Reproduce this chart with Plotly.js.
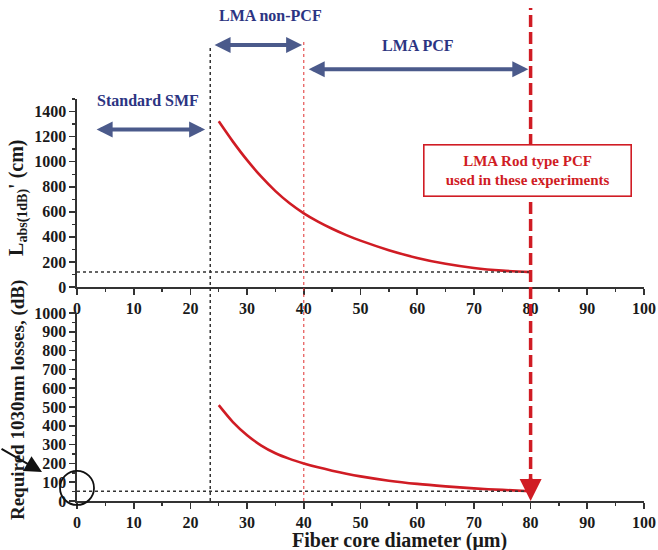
<!DOCTYPE html>
<html>
<head>
<meta charset="utf-8">
<script src="https://cdn.plot.ly/plotly-3.0.1.min.js"></script>
<style>html,body{margin:0;padding:0;background:#fff;}#chart{width:658px;height:550px;}</style>
</head>
<body>
<div id="chart"></div>
<script>
// ---- data ----
const diameter = [25, 27.5, 30, 32.5, 35, 37.5, 40, 42.5, 45, 47.5, 50, 55, 60, 65, 70, 75, 80];
const lengthCm = [1322, 1160, 1012, 880, 765, 668, 588, 522, 465, 414, 370, 294, 232, 185, 152, 131, 119];
const lossDb   = [510, 420, 350, 295, 254, 224, 200, 179, 161, 145, 131, 108, 91, 78, 67, 59, 52];
const xTicks = [0, 10, 20, 30, 40, 50, 60, 70, 80, 90, 100];
const regionLabels = ["Standard SMF", "LMA non-PCF", "LMA PCF"];
const regionStart = [3.2, 24.0, 40.6];
const regionEnd = [22.6, 39.7, 79.6];
const smfBoundary = 23.5;     // black dotted line
const nonPcfBoundary = 40;    // red dotted line
const rodDiameter = 80;       // red dashed arrow
const lengthLevel = 120;      // top dotted level
const lossLevel = 52;         // bottom dotted level
const boxText = "LMA Rod type PCF<br>used in these experiments";
const xTitle = "Fiber core diameter (μm)";
const yTitleTop = "L<sub>abs(1dB)</sub>' (cm)";
const yTitleBottom = "Required 1030nm losses, (dB)";

const RED = "#d01c24";
const NAVY = "#2c3482";
const ARROW = "#4b5a8b";
const AX = "#333333";
const FONT = "'Liberation Serif', 'Times New Roman', serif";

const tickfont = {family: FONT, size: 16, color: "#1a1a1a", weight: "bold"};

function xAxis(anchor) {
  return {
    anchor: anchor, range: [0, 100], tickvals: xTicks, ticktext: xTicks.map(String),
    showgrid: false, zeroline: false, showline: true, linecolor: AX, linewidth: 1.6,
    ticks: "outside", ticklen: 6, tickwidth: 1.6, tickcolor: AX,
    minor: {ticks: "outside", dtick: 5, tick0: 0, ticklen: 3, tickwidth: 1.4, tickcolor: AX},
    tickfont: tickfont, fixedrange: true
  };
}
function yAxis(anchor, domain, range, dtick, mdt) {
  return {
    anchor: anchor, domain: domain, range: range, dtick: dtick, tick0: 0,
    showgrid: false, zeroline: false, showline: true, linecolor: AX, linewidth: 1.6,
    ticks: "outside", ticklen: 6, tickwidth: 1.6, tickcolor: AX,
    minor: {ticks: "outside", dtick: mdt, tick0: 0, ticklen: 3, tickwidth: 1.4, tickcolor: AX},
    tickfont: tickfont, fixedrange: true
  };
}

const traces = [
  {x: diameter, y: lengthCm, xaxis: "x", yaxis: "y", mode: "lines",
   line: {color: RED, width: 2.6, shape: "spline", smoothing: 0.8}, hoverinfo: "skip"},
  {x: diameter, y: lossDb, xaxis: "x2", yaxis: "y2", mode: "lines",
   line: {color: RED, width: 2.6, shape: "spline", smoothing: 0.8}, hoverinfo: "skip"}
];

const shapes = [
  {type: "line", xref: "x", yref: "paper", x0: smfBoundary, x1: smfBoundary, y0: 0, y1: 0.910,
   line: {color: "#333", width: 1.5, dash: "dot"}},
  {type: "line", xref: "x", yref: "paper", x0: nonPcfBoundary, x1: nonPcfBoundary, y0: 0, y1: 0.918,
   line: {color: "#e03030", width: 1, dash: "dot"}},
  {type: "line", xref: "x", yref: "y", x0: 0, x1: rodDiameter, y0: lengthLevel, y1: lengthLevel,
   line: {color: "#333", width: 1.5, dash: "dot"}},
  {type: "line", xref: "x2", yref: "y2", x0: 0, x1: rodDiameter, y0: lossLevel, y1: lossLevel,
   line: {color: "#333", width: 1.5, dash: "dot"}},
  {type: "line", xref: "x", yref: "paper", x0: rodDiameter, x1: rodDiameter, y0: 0.03, y1: 0.984,
   line: {color: RED, width: 3.5, dash: "12px,5px"}},
  {type: "circle", xref: "paper", yref: "paper", xsizemode: "pixel", ysizemode: "pixel",
   xanchor: 0, yanchor: 0.026, x0: -17, x1: 17, y0: -17, y1: 17,
   line: {color: "#111", width: 1.8}}
];

const bold = (size, color) => ({family: FONT, size: size, color: color, weight: "bold"});
const C = {xanchor: "center", yanchor: "middle"};

const annotations = [
  // double arrows
  {xref: "x", yref: "y", x: regionEnd[0], y: 1256, axref: "x", ayref: "y", ax: regionStart[0], ay: 1256,
   text: "", showarrow: true, arrowside: "end+start", arrowhead: 2, startarrowhead: 2,
   arrowsize: 0.8, startarrowsize: 0.8, arrowwidth: 4, arrowcolor: ARROW},
  {xref: "x", yref: "paper", x: regionEnd[1], y: 0.910, axref: "x", ayref: "pixel", ax: regionStart[1], ay: 0,
   text: "", showarrow: true, arrowside: "end+start", arrowhead: 2, startarrowhead: 2,
   arrowsize: 0.8, startarrowsize: 0.8, arrowwidth: 4, arrowcolor: ARROW},
  {xref: "x", yref: "paper", x: regionEnd[2], y: 0.862, axref: "x", ayref: "pixel", ax: regionStart[2], ay: 0,
   text: "", showarrow: true, arrowside: "end+start", arrowhead: 2, startarrowhead: 2,
   arrowsize: 0.8, startarrowsize: 0.8, arrowwidth: 4, arrowcolor: ARROW},
  // region labels
  Object.assign({xref: "x", yref: "y", x: 12.5, y: 1488, text: regionLabels[0], showarrow: false, font: bold(16, NAVY)}, C),
  Object.assign({xref: "x", yref: "paper", x: 34.2, y: 0.970, text: regionLabels[1], showarrow: false, font: bold(16, NAVY)}, C),
  Object.assign({xref: "x", yref: "paper", x: 60.1, y: 0.910, text: regionLabels[2], showarrow: false, font: bold(16, NAVY)}, C),
  // red box
  Object.assign({xref: "x", yref: "y", x: 79.4, y: 928, text: boxText, showarrow: false, width: 198, height: 42,
   font: bold(15, RED), bgcolor: "#ffffff", bordercolor: RED, borderwidth: 1.6, borderpad: 4}, C),
  // red arrowhead at bottom
  {xref: "x2", yref: "y2", x: rodDiameter, y: 0, ax: 0, ay: -24, text: "", showarrow: true,
   arrowhead: 2, arrowsize: 1.1, arrowwidth: 4, arrowcolor: RED},
  // black arrow bottom-left
  {xref: "paper", yref: "paper", x: -0.0617, y: 0.0579, ax: -42, ay: -24, text: "", showarrow: true,
   arrowhead: 2, arrowsize: 1.7, arrowwidth: 2, arrowcolor: "#111"},
  // titles
  Object.assign({xref: "paper", yref: "paper", x: 0.568, y: -0.079, text: xTitle, showarrow: false,
   font: bold(20, "#1a1a1a")}, C),
  Object.assign({xref: "paper", yref: "paper", x: -0.104, y: 0.605, text: yTitleTop, showarrow: false, textangle: -90,
   font: bold(20, "#1a1a1a")}, C),
  Object.assign({xref: "paper", yref: "paper", x: -0.104, y: 0.2016, text: yTitleBottom, showarrow: false, textangle: -90,
   font: bold(19, "#1a1a1a")}, C)
];

const layout = {
  width: 658, height: 550,
  margin: {l: 77, r: 14, t: 0, b: 49, pad: 0},
  paper_bgcolor: "#ffffff", plot_bgcolor: "#ffffff",
  showlegend: false,
  xaxis: xAxis("y"),
  xaxis2: xAxis("y2"),
  yaxis: yAxis("x", [0.4271, 0.8024], [0, 1500], 200, 100),
  yaxis2: yAxis("x2", [0, 0.3752], [0, 1000], 100, 50),
  shapes: shapes,
  annotations: annotations
};

Plotly.newPlot("chart", traces, layout, {displayModeBar: false, staticPlot: true});
</script>
</body>
</html>
